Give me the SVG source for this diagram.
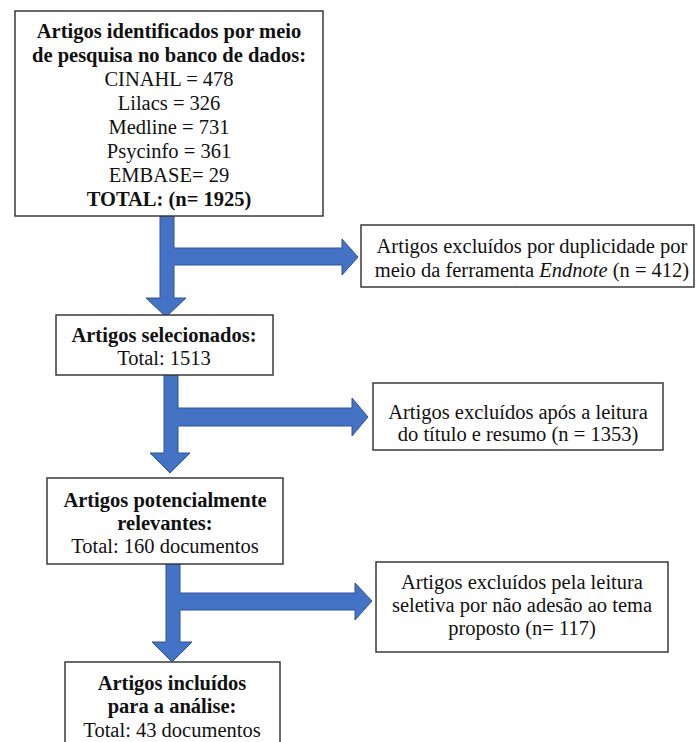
<svg xmlns="http://www.w3.org/2000/svg" width="697" height="742" viewBox="0 0 697 742">
<style>
.box{fill:#fff;stroke:#3a3a3a;stroke-width:1.5}
text{font-family:'Liberation Serif','Times New Roman',serif;font-size:20.5px;fill:#111;text-anchor:middle}
.b{font-weight:bold}
.arr{fill:#4472C4;stroke:#2F5597;stroke-width:1}
</style>
<rect width="697" height="742" fill="#fff"/>
<g id="connectors">
<polygon class="arr" points="160,216 174,216 174,248 342,248 342,239 358,257 342,275 342,265 174,265 174,298 186,298 166,317 146,298 160,298"/>
<polygon class="arr" points="164,375 178,375 178,408 352,408 352,398 368,417 352,436 352,426 178,426 178,453 190,453 170,473 150,453 164,453"/>
<polygon class="arr" points="166,564 180,564 180,593 355,593 355,583 372,601 355,620 355,610 180,610 180,642 192,642 172,662 152,642 166,642"/>
</g>
<g id="n1">
<rect class="box" x="15" y="11" width="308" height="205"/>
<text class="b" x="169" y="38">Artigos identificados por meio</text>
<text class="b" x="169" y="62">de pesquisa no banco de dados:</text>
<text x="169" y="86">CINAHL = 478</text>
<text x="169" y="110">Lilacs = 326</text>
<text x="169" y="134">Medline = 731</text>
<text x="169" y="158">Psycinfo = 361</text>
<text x="169" y="182">EMBASE= 29</text>
<text class="b" x="169" y="206">TOTAL: (n= 1925)</text>
</g>
<g id="n2">
<rect class="box" x="361" y="225" width="333" height="62"/>
<text x="532" y="253">Artigos excluídos por duplicidade por</text>
<text x="532" y="277">meio da ferramenta <tspan font-style="italic">Endnote</tspan> (n = 412)</text>
</g>
<g id="n3">
<rect class="box" x="56" y="315" width="217" height="60"/>
<text class="b" x="164" y="342">Artigos selecionados:</text>
<text x="164" y="365">Total: 1513</text>
</g>
<g id="n4">
<rect class="box" x="373" y="383" width="290" height="67"/>
<text x="518" y="419">Artigos excluídos após a leitura</text>
<text x="518" y="441">do título e resumo (n = 1353)</text>
</g>
<g id="n5">
<rect class="box" x="47" y="478" width="236" height="86"/>
<text class="b" x="165" y="507">Artigos potencialmente</text>
<text class="b" x="165" y="530">relevantes:</text>
<text x="165" y="553">Total: 160 documentos</text>
</g>
<g id="n6">
<rect class="box" x="376" y="562" width="292" height="90"/>
<text x="522" y="589">Artigos excluídos pela leitura</text>
<text x="522" y="612">seletiva por não adesão ao tema</text>
<text x="522" y="635">proposto (n= 117)</text>
</g>
<g id="n7">
<rect class="box" x="65" y="662" width="215" height="90"/>
<text class="b" x="172" y="690">Artigos incluídos</text>
<text class="b" x="172" y="713">para a análise:</text>
<text x="172" y="737">Total: 43 documentos</text>
</g>
</svg>
